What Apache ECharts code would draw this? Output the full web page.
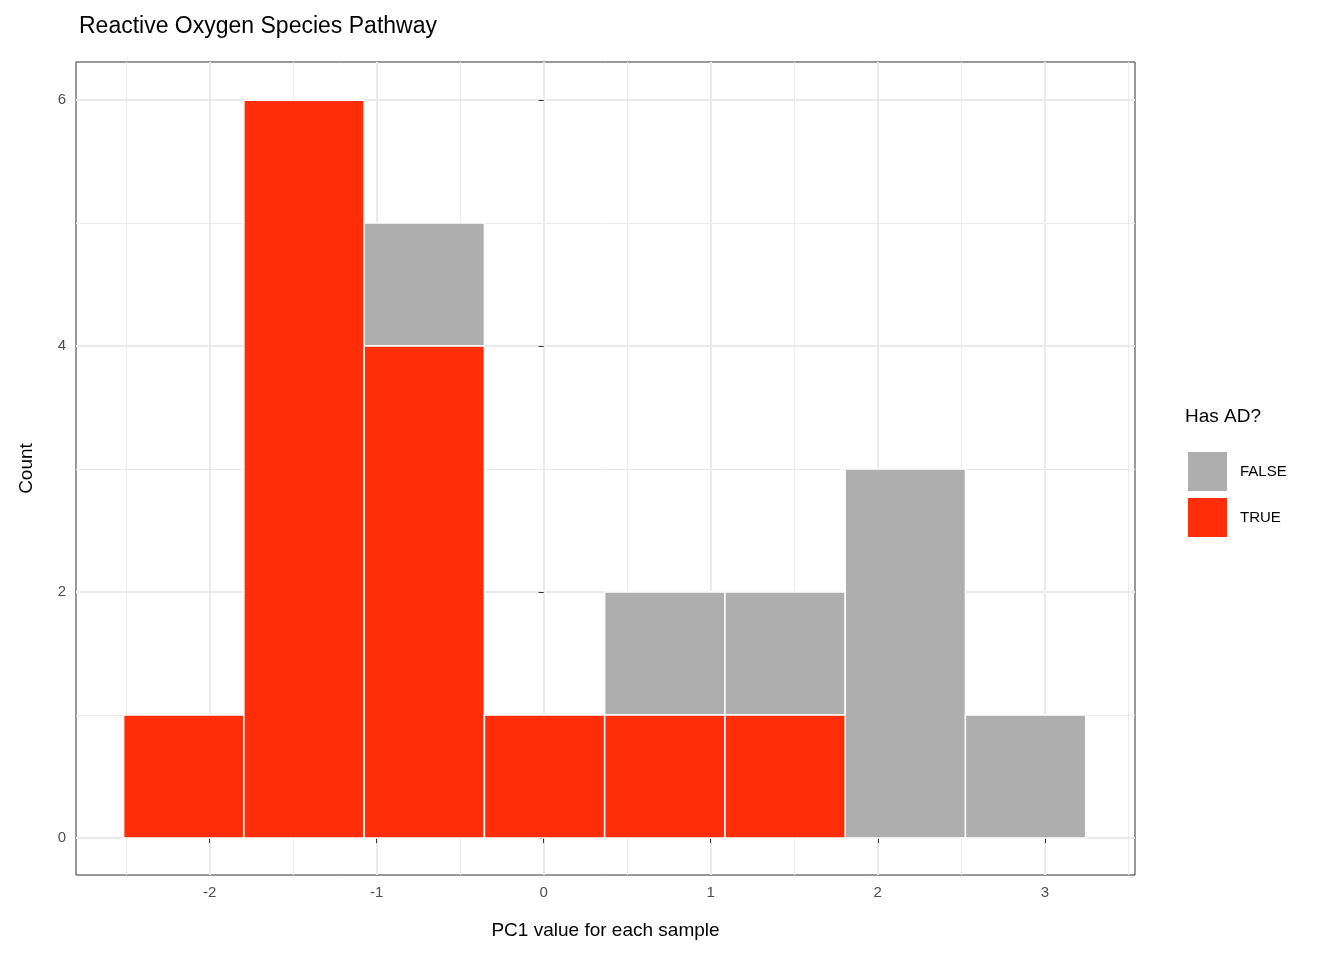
<!DOCTYPE html>
<html><head><meta charset="utf-8">
<script src="https://cdn.jsdelivr.net/npm/echarts@6/dist/echarts.min.js"></script>
<style>html,body{margin:0;background:#fff}#c{width:1344px;height:960px}</style>
</head><body><div id="c"></div>
<script>
// histogram bins (PC1 value) and counts per group
const binStarts = [-2.515, -1.795, -1.075, -0.355, 0.365, 1.085, 1.805, 2.525];
const binWidth = 0.72;
const countTrue = [1, 6, 4, 1, 1, 1, 0, 0];
const countFalse = [0, 0, 1, 0, 1, 1, 3, 1];
const xTicks = [-2, -1, 0, 1, 2, 3];
const xMinor = [-2.5, -1.5, -0.5, 0.5, 1.5, 2.5, 3.5];
const yTicks = [0, 2, 4, 6];
const yMinor = [1, 3, 5];

const font = 'Liberation Sans, Arial, sans-serif';
const chart = echarts.init(document.getElementById('c'));

function barRender(counts, baseCounts, color) {
  return function (params, api) {
    const i = api.value(0);
    const x0 = binStarts[i], x1 = x0 + binWidth;
    const b = baseCounts ? baseCounts[i] : 0;
    const c = counts[i];
    if (!c) return null;
    const p0 = api.coord([x0, b + c]);
    const p1 = api.coord([x1, b]);
    return {
      type: 'rect',
      shape: { x: p0[0], y: p0[1], width: p1[0] - p0[0], height: p1[1] - p0[1] },
      style: { fill: color, stroke: '#fff', lineWidth: 1.5 }
    };
  };
}
const idx = binStarts.map((_, i) => [i]);

const axisCommon = { min: -2.8, max: 3.54 };
chart.setOption({
  animation: false,
  title: [
    { text: 'Reactive Oxygen Species Pathway', left: 74, top: 10,
      textStyle: { fontFamily: font, fontSize: 23, fontWeight: 'normal', color: '#000' } },
    { text: 'Has AD?', left: 1180, top: 402,
      textStyle: { fontFamily: font, fontSize: 19, fontWeight: 'normal', color: '#000' } }
  ],
  legend: {
    orient: 'vertical', left: 1183, top: 447, itemWidth: 39, itemHeight: 39, itemGap: 7,
    data: ['FALSE', 'TRUE'], icon: 'rect',
    textStyle: { fontFamily: font, fontSize: 15, color: '#000', padding: [0, 0, 0, 8] }
  },
  grid: { left: 76, right: 209, top: 62, bottom: 85, show: true, borderColor: '#333', borderWidth: 1 },
  xAxis: [
    Object.assign({ type: 'value', name: 'PC1 value for each sample', nameLocation: 'middle', nameGap: 46,
      nameTextStyle: { fontFamily: font, fontSize: 19, color: '#000' },
      axisLine: { show: false },
      axisTick: { show: true, customValues: xTicks, length: 5, lineStyle: { color: '#333' } },
      axisLabel: { customValues: xTicks, fontFamily: font, fontSize: 15, color: '#4d4d4d', margin: 10 },
      splitLine: { show: true, lineStyle: { color: '#ebebeb', width: 2 } } }, axisCommon),
    Object.assign({ type: 'value', position: 'bottom', axisLine: { show: false },
      axisTick: { show: false, customValues: xMinor }, axisLabel: { show: false, customValues: xMinor },
      splitLine: { show: true, lineStyle: { color: '#ebebeb', width: 1 } } }, axisCommon)
  ],
  yAxis: [
    { type: 'value', min: -0.3, max: 6.31, name: 'Count', nameLocation: 'middle', nameGap: 40,
      nameTextStyle: { fontFamily: font, fontSize: 19, color: '#000' },
      axisLine: { show: false },
      axisTick: { show: true, customValues: yTicks, length: 5, lineStyle: { color: '#333' } },
      axisLabel: { customValues: yTicks, fontFamily: font, fontSize: 15, color: '#4d4d4d', margin: 10 },
      splitLine: { show: true, lineStyle: { color: '#ebebeb', width: 2 } } },
    { type: 'value', min: -0.3, max: 6.31, position: 'left', axisLine: { show: false },
      axisTick: { show: false, customValues: yMinor }, axisLabel: { show: false, customValues: yMinor },
      splitLine: { show: true, lineStyle: { color: '#ebebeb', width: 1 } } }
  ],
  series: [
    { name: 'FALSE', type: 'custom', color: '#aeaeae', data: idx, encode: { x: -1, y: -1 },
      renderItem: barRender(countFalse, countTrue, '#aeaeae') },
    { name: 'TRUE', type: 'custom', color: '#ff2e08', data: idx, encode: { x: -1, y: -1 },
      renderItem: barRender(countTrue, null, '#ff2e08') }
  ]
});
</script></body></html>
